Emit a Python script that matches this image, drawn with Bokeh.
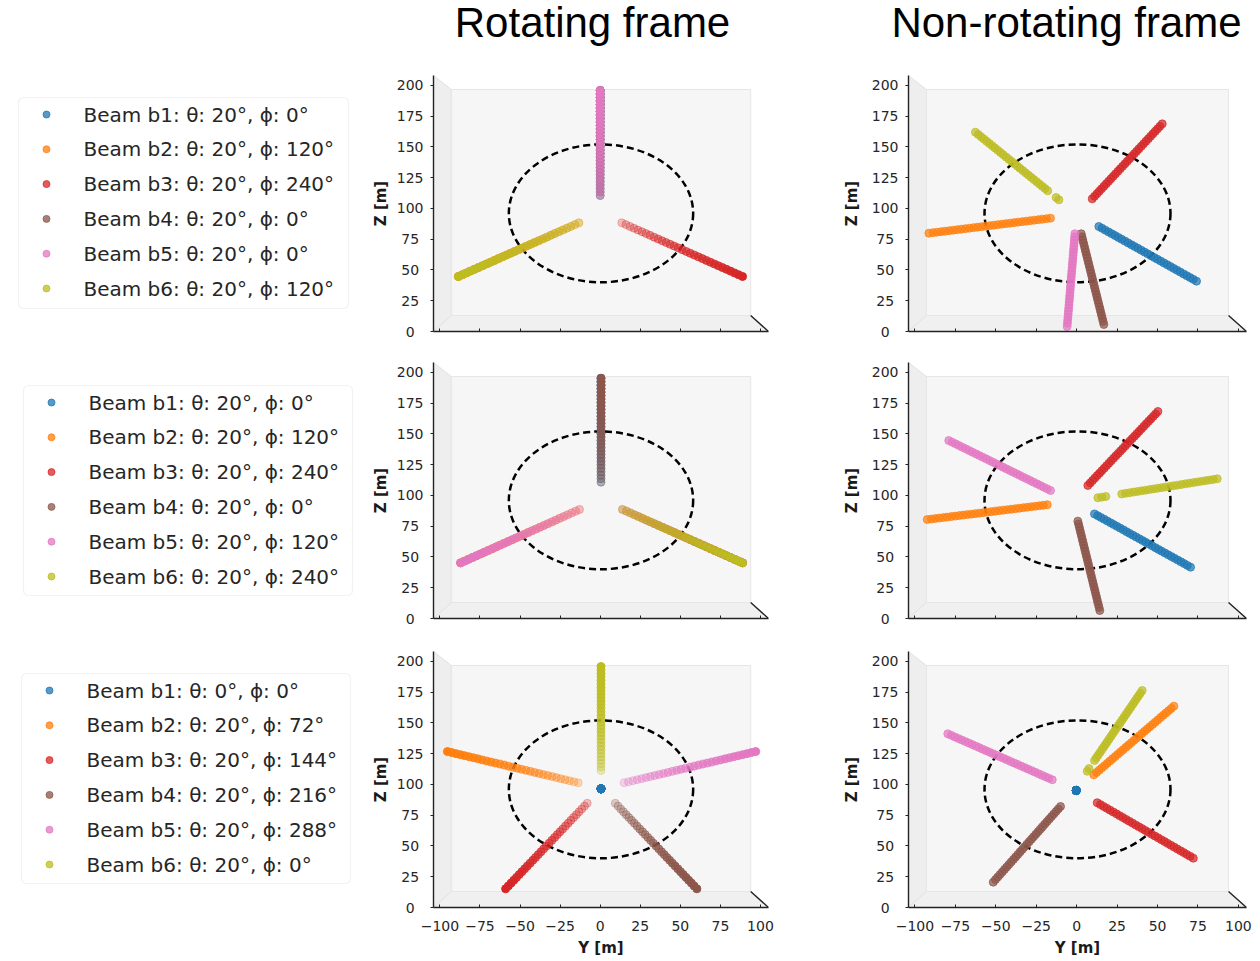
import numpy as np
from bokeh.plotting import figure
from bokeh.layouts import column, row
from bokeh.models import Range1d, FixedTicker, CustomJSTickFormatter, BoxAnnotation, ColumnDataSource
from bokeh.core.properties import value
from bokeh.embed import file_html
from bokeh.resources import INLINE

# ---------------- data ----------------
TITLES = ["Rotating frame", "Non-rotating frame"]
BEAM_NAMES = ["b1", "b2", "b3", "b4", "b5", "b6"]
COLORS = ["#1f77b4", "#ff7f0e", "#d62728", "#8c564b", "#e377c2", "#bcbd22"]

THETA_ROWS = [[20, 20, 20, 20, 20, 20],
              [20, 20, 20, 20, 20, 20],
              [0, 20, 20, 20, 20, 20]]
PHI_ROWS = [[0, 120, 240, 0, 0, 120],
            [0, 120, 240, 0, 120, 240],
            [0, 72, 144, 216, 288, 0]]

Y_TICKS = [-100, -75, -50, -25, 0, 25, 50, 75, 100]
Y_TICK_LABELS = ["\u2212100", "\u221275", "\u221250", "\u221225", "0", "25", "50", "75", "100"]
Z_TICKS = [0, 25, 50, 75, 100, 125, 150, 175, 200]
Z_TICK_LABELS = ["0\u2007", "25\u2008", "50\u2008", "75\u2008", "100", "125", "150", "175", "200"]

# rotor disc (dashed ellipse)
ROTOR_Y = 0.5
ROTOR_Z = 96.0
ROTOR_W = 115.0
ROTOR_H = 112.0

N_GATES = 31  # range gates per beam

# beam endpoints: (y_inner, z_inner, y_outer, z_outer) for b1..b6
ROT_BEAMS = [
    [(0.0, 110.5, 0.0, 195.8), (-13.3, 88.3, -88.5, 44.7), (13.5, 88.3, 88.8, 44.7),
     (0.0, 110.5, 0.0, 195.8), (0.0, 110.5, 0.0, 195.8), (-13.3, 88.3, -88.5, 44.7)],
    [(0.5, 110.8, 0.5, 195.2), (-12.9, 88.6, -87.1, 45.2), (13.9, 88.6, 88.8, 45.2),
     (0.5, 110.8, 0.5, 195.2), (-12.9, 88.6, -87.1, 45.2), (13.9, 88.6, 88.8, 45.2)],
    [(0.5, 96.4, 0.5, 96.4), (-13.7, 101.3, -95.3, 126.7), (-8.1, 84.7, -59.0, 15.2),
     (9.4, 84.7, 60.3, 15.2), (14.9, 101.3, 97.0, 126.7), (0.5, 111.3, 0.5, 195.8)],
]
NONROT_BEAMS = [
    [(13.7, 85.3, 74.1, 40.9), (-16.2, 92.1, -91.4, 79.9), (9.6, 107.8, 52.9, 168.7),
     (2.8, 79.4, 16.8, 5.7), (-1.1, 79.4, -5.9, 4.1), (-11.0, 107.0, -62.6, 161.9)],
    [(11.0, 85.0, 70.4, 41.7), (-18.2, 92.4, -92.4, 80.4), (6.9, 108.1, 50.2, 168.2),
     (0.7, 79.1, 14.3, 6.5), (-16.2, 104.0, -79.1, 144.6), (13.1, 98.1, 86.9, 113.5)],
    [(-0.3, 95.1, -0.3, 95.1), (10.6, 107.8, 60.1, 163.6), (12.7, 85.1, 72.1, 40.1),
     (-10.0, 82.1, -51.6, 20.6), (-15.1, 103.8, -79.7, 141.1), (6.5, 110.7, 40.5, 176.3)],
]
# missing range gates (index 0 = inner end) in the non-rotating frame
NONROT_SKIP = [
    {5: [2, 3]},
    {5: [3, 4, 5]},
    {5: [2, 3]},
]

# ---------------- layout constants ----------------
Y_MIN, Y_MAX = -104.0, 105.0
Z_MIN, Z_MAX = 0.0, 208.0
INSET_Y = 11.1
INSET_ZT = 11.4
INSET_ZB = 13.0

TITLE_H = 58
FRAME_H = 256
ROW_H = [288, 288, 326]
BORDER_T = [17, 16, 17]
BORDER_B = [15, 16, 53]
LEG_W = 368
ROT_W = 420
NR_W = 464
TOTAL_W = LEG_W + ROT_W + NR_W
# legend boxes in frame pixels (left, right, top, bottom), y measured up from the frame bottom
LEG_BOX = [(18, 348, 234, 23), (23, 352, 233, 23), (21, 350, 234, 24)]
LEG_PITCH = 34.8
FONT = "DejaVu Sans"


def beam_points(b, skip):
    y0, z0, y1, z1 = b
    t = np.linspace(0.0, 1.0, N_GATES)
    keep = np.array([i not in skip for i in range(N_GATES)])
    return (y0 + (y1 - y0) * t)[keep], (z0 + (z1 - z0) * t)[keep], keep


def make_panel(r, beams, skips, rotating, width, left_border, right_border, bottom_row, label_standoff):
    p = figure(width=width, height=ROW_H[r], x_range=Range1d(Y_MIN, Y_MAX), y_range=Range1d(Z_MIN, Z_MAX),
               output_backend="svg", toolbar_location=None, title=None,
               min_border_left=left_border, min_border_right=right_border,
               min_border_top=BORDER_T[r], min_border_bottom=BORDER_B[r])
    p.grid.visible = False
    p.outline_line_color = None
    p.background_fill_color = "white"
    p.border_fill_color = "white"

    yl, yr = Y_MIN + INSET_Y, Y_MAX - INSET_Y
    zb, zt = Z_MIN + INSET_ZB, Z_MAX - INSET_ZT
    # panes
    p.patch([Y_MIN, yl, yl, Y_MIN], [Z_MAX, zt, zb, Z_MIN], fill_color="#eeeeee", line_color="#e2e2e2", line_width=1)
    p.patch([Y_MIN, yl, yr, Y_MAX], [Z_MIN, zb, zb, Z_MIN], fill_color="#f0f0f0", line_color="#e2e2e2", line_width=1)
    p.quad(left=yl, right=yr, bottom=zb, top=zt, fill_color="#f6f6f6", line_color="#e6e6e6", line_width=1)
    p.line([yr, Y_MAX], [zb, Z_MIN], line_color="#222222", line_width=1.4)

    # rotor disc
    p.ellipse(x=ROTOR_Y, y=ROTOR_Z, width=ROTOR_W, height=ROTOR_H, fill_color=None,
              line_color="black", line_width=2.5, line_dash="7 4")

    for i, b in enumerate(beams):
        skip = skips.get(i, [])
        ys, zs, keep = beam_points(b, skip)
        if rotating:
            alpha = np.linspace(0.28, 1.0, N_GATES)[keep]
        else:
            alpha = np.full(len(ys), 0.72)
        src = ColumnDataSource(dict(y=ys, z=zs, a=alpha))
        p.scatter(x="y", y="z", source=src, marker="circle", size=8,
                  fill_color=COLORS[i], line_color=COLORS[i], fill_alpha="a", line_alpha="a", line_width=1)

    # axes
    ya = p.yaxis[0]
    ya.ticker = FixedTicker(ticks=Z_TICKS)
    ya.major_label_overrides = {t: l for t, l in zip(Z_TICKS, Z_TICK_LABELS)}
    ya.minor_tick_line_color = None
    ya.major_tick_out = 3
    ya.major_tick_in = 0
    ya.major_label_standoff = 7
    ya.major_label_text_font = FONT
    ya.major_label_text_font_size = "14px"
    ya.major_label_text_color = "#262626"
    ya.axis_line_color = "#222222"
    ya.axis_line_width = 1.4
    ya.major_tick_line_color = "#222222"
    ya.axis_label = "Z [m]"
    ya.axis_label_text_font = FONT
    ya.axis_label_text_font_style = "bold"
    ya.axis_label_text_font_size = "15px"
    ya.axis_label_text_color = "#1a1a1a"
    ya.axis_label_standoff = label_standoff

    xa = p.xaxis[0]
    xa.ticker = FixedTicker(ticks=Y_TICKS)
    xa.minor_tick_line_color = None
    xa.major_tick_out = 0
    xa.major_tick_in = 3
    xa.axis_line_color = "#222222"
    xa.axis_line_width = 1.4
    xa.major_tick_line_color = "#222222"
    if bottom_row:
        xa.major_label_overrides = {t: l for t, l in zip(Y_TICKS, Y_TICK_LABELS)}
        xa.major_label_standoff = 13
        xa.major_label_text_font = FONT
        xa.major_label_text_font_size = "14px"
        xa.major_label_text_color = "#262626"
        xa.axis_label = "Y [m]"
        xa.axis_label_text_font = FONT
        xa.axis_label_text_font_style = "bold"
        xa.axis_label_text_font_size = "15px"
        xa.axis_label_text_color = "#1a1a1a"
        xa.axis_label_standoff = 5
    else:
        xa.formatter = CustomJSTickFormatter(code="return ''")
        xa.major_label_text_font_size = "0px"
        xa.major_label_standoff = 0
    return p


def make_legend(r):
    p = figure(width=LEG_W, height=ROW_H[r], x_range=Range1d(0, LEG_W), y_range=Range1d(0, FRAME_H),
               output_backend="svg", toolbar_location=None, x_axis_type=None, y_axis_type=None,
               min_border_left=0, min_border_right=0,
               min_border_top=BORDER_T[r], min_border_bottom=BORDER_B[r], title=None)
    p.grid.visible = False
    p.outline_line_color = None
    l, rr, t, b = LEG_BOX[r]
    p.add_layout(BoxAnnotation(left=l, right=rr, top=t, bottom=b, fill_color="white", fill_alpha=1.0,
                               line_color="#d4d4d4", line_width=1.2, border_radius=5, level="underlay"))
    labels = [f"Beam {n}: \u03b8: {th}\u00b0, \u03d5: {ph}\u00b0"
              for n, th, ph in zip(BEAM_NAMES, THETA_ROWS[r], PHI_ROWS[r])]
    ys = [t - 17 - LEG_PITCH * k for k in range(len(labels))]
    p.scatter(x=[l + 28] * len(labels), y=ys, size=7, color=COLORS, alpha=0.75, marker="circle")
    p.text(x=[l + 65] * len(labels), y=ys, text=labels, text_font=value(FONT), text_font_size="20px",
           text_baseline="middle", text_align="left", text_color="#262626")
    return p


title_fig = figure(width=TOTAL_W, height=TITLE_H, x_range=Range1d(0, TOTAL_W),
                   y_range=Range1d(0, TITLE_H), output_backend="svg", toolbar_location=None,
                   x_axis_type=None, y_axis_type=None, min_border=0, title=None)
title_fig.grid.visible = False
title_fig.outline_line_color = None
title_fig.text(x=[592, 1066], y=[TITLE_H - 22, TITLE_H - 22], text=TITLES, text_font=value("Liberation Sans"),
               text_font_size="42px", text_align="center", text_baseline="middle", text_color="black")

rows = []
for r in range(3):
    leg = make_legend(r)
    rot = make_panel(r, ROT_BEAMS[r], {}, True, ROT_W, 62, 20, r == 2, 4)
    nr = make_panel(r, NONROT_BEAMS[r], NONROT_SKIP[r], False, NR_W, 120, 6, r == 2, 8)
    rows.append(row(leg, rot, nr))

layout = column(title_fig, *rows)
open("out.html", "w").write(file_html(layout, INLINE))
